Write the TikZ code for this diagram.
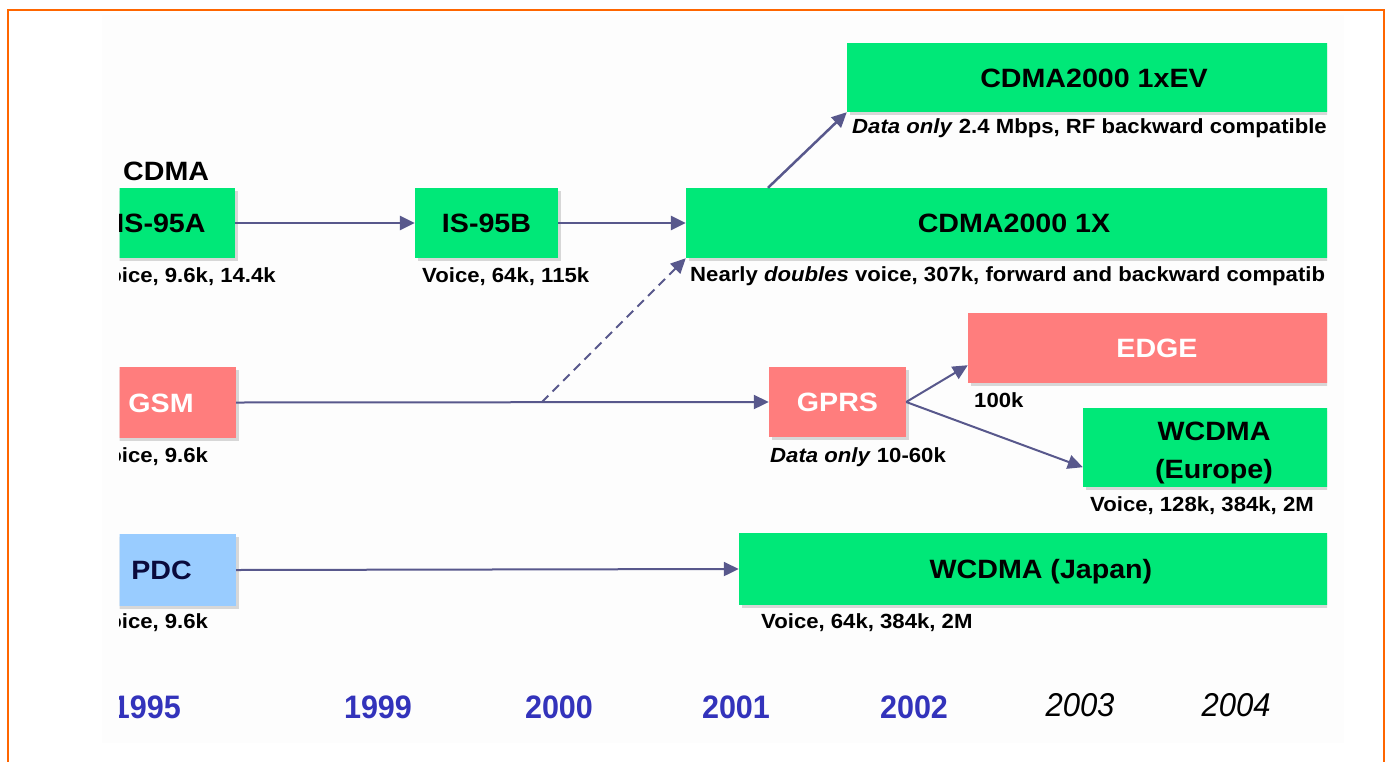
\documentclass[tikz,border=0pt]{standalone}
\usepackage{fontspec}
\setmainfont[FakeStretch=1.08]{Liberation Sans}
\newfontfamily\yearfont[FakeStretch=0.94]{Liberation Sans}
\usetikzlibrary{arrows.meta,shadows}
\definecolor{boxgreen}{RGB}{0,232,120}
\definecolor{boxpink}{RGB}{255,125,125}
\definecolor{boxblue}{RGB}{153,204,255}
\definecolor{arrowc}{RGB}{88,88,140}
\definecolor{yearblue}{RGB}{51,51,187}
\definecolor{frameorange}{RGB}{255,102,0}
\definecolor{panelgray}{RGB}{253,253,253}
\definecolor{navytext}{RGB}{10,10,60}
\begin{document}
\begin{tikzpicture}[x=1pt,y=-1pt,
  box/.style={rectangle, inner sep=0pt, text height=19pt, text depth=0pt,
    font=\fontsize{26.5}{30}\selectfont\bfseries,
    drop shadow={shadow xshift=3pt,shadow yshift=-3pt,fill=black,opacity=0.15}},
  grn/.style={box, fill=boxgreen, text=black},
  pnk/.style={box, fill=boxpink, text=white},
  blu/.style={box, fill=boxblue, text=navytext},
  lbl/.style={anchor=base west, inner sep=0pt, font=\fontsize{20.5}{24}\selectfont\bfseries},
  conn/.style={draw=arrowc, line width=2.5pt, -{Triangle[length=15pt,width=14pt]}},
  thinconn/.style={conn, line width=2pt},
  dashconn/.style={conn, line width=2pt, dash pattern=on 9pt off 6pt},
  yr/.style={anchor=base, inner sep=0pt, font=\fontsize{32.5}{36}\selectfont\yearfont\bfseries, text=yearblue},
  yrit/.style={anchor=base, inner sep=0pt, font=\fontsize{33}{36}\selectfont\yearfont\itshape, text=black},
]
\useasboundingbox (0,0) rectangle (1387,761);
\fill[panelgray] (102,15) rectangle (1344,743);
\draw[frameorange, line width=2.5pt] (8,770) -- (8,10) -- (1384,10) -- (1384,770);

\begin{scope}
\clip (119.5,0) rectangle (1327,761);

% CDMA row
\node[lbl, font=\fontsize{26.5}{30}\selectfont\bfseries] (cdmalbl) at (123,180) {CDMA};
\node[grn, minimum width=148pt, minimum height=70pt] (is95a) at (161,223) {IS-95A};
\node[lbl] (is95alb) at (95,282) {Voice, 9.6k, 14.4k};
\node[grn, minimum width=143pt, minimum height=70pt] (is95b) at (486.5,223) {IS-95B};
\node[lbl] (is95blb) at (422,282) {Voice, 64k, 115k};
\node[grn, minimum width=656pt, minimum height=70pt] (c1x) at (1014,223) {CDMA2000 1X};
\node[lbl] (c1xlb) at (690,281) {Nearly \textit{doubles} voice, 307k, forward and backward compatib};
\node[grn, minimum width=494pt, minimum height=69pt] (c1xev) at (1094,77.5) {CDMA2000 1xEV};
\node[lbl] (c1xevlb) at (852,133) {\textit{Data only} 2.4 Mbps, RF backward compatible};

% GSM row
\node[pnk, minimum width=150pt, minimum height=71pt] (gsm) at (161,402.5) {GSM};
\node[lbl] (gsmlb) at (95,462) {Voice, 9.6k};
\node[pnk, minimum width=137pt, minimum height=70pt] (gprs) at (837.5,402) {GPRS};
\node[lbl] (gprslb) at (770,462) {\textit{Data only} 10-60k};
\node[pnk, minimum width=378pt, minimum height=70pt] (edgebox) at (1157,348) {EDGE};
\node[lbl] (edgelb) at (974,407) {100k};
\node[grn, minimum width=262pt, minimum height=79pt] (eur) at (1214,447.5) {};
\node[inner sep=0pt, align=center, font=\fontsize{26.5}{38}\selectfont\bfseries] (eurtxt) at (1214,453) {WCDMA\\(Europe)};
\node[lbl] (eurlb) at (1090,511) {Voice, 128k, 384k, 2M};

% PDC row
\node[blu, minimum width=149pt, minimum height=72pt] (pdc) at (161.5,570) {PDC};
\node[lbl] (pdclb) at (95,628) {Voice, 9.6k};
\node[grn, minimum width=604pt, minimum height=72pt] (jpn) at (1041,569) {WCDMA (Japan)};
\node[lbl] (jpnlb) at (761,628) {Voice, 64k, 384k, 2M};

% connectors
\coordinate (split) at (542,402);
\draw[conn] (is95a.east) -- (is95b.west);
\draw[conn] (is95b.east) -- (c1x.west);
\draw[conn] ([xshift=-246pt]c1x.north) -- (c1xev.south west);
\draw[thinconn] (gsm.east) -- (gprs.west);
\draw[dashconn] (split) -- (c1x.south west);
\draw[thinconn] (gprs.east) -- ([yshift=18pt]edgebox.south west);
\draw[thinconn] (gprs.east) -- ([yshift=20pt]eur.south west);
\draw[thinconn] (pdc.east) -- (jpn.west);

% years
\node[yr, anchor=base east] (y1995) at (181,718) {1995};
\node[yr] (y1999) at (378,718) {1999};
\node[yr] (y2000) at (559,718) {2000};
\node[yr] (y2001) at (736,718) {2001};
\node[yr] (y2002) at (914,718) {2002};
\node[yrit] (y2003) at (1080,716) {2003};
\node[yrit] (y2004) at (1236,716) {2004};
\end{scope}
\end{tikzpicture}
\end{document}
